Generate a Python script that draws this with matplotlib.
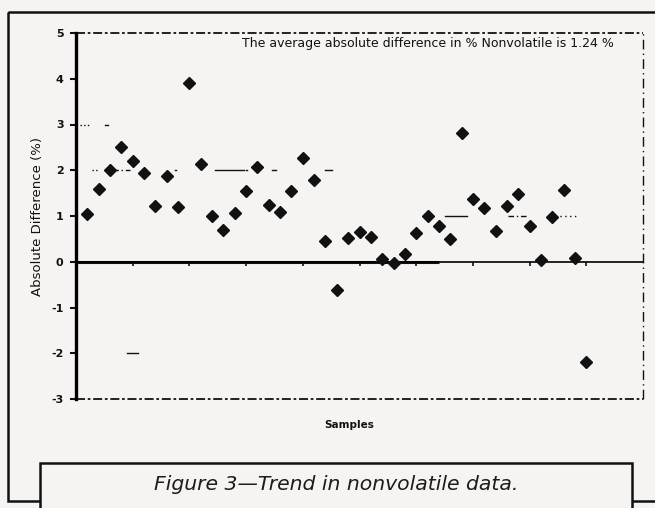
import matplotlib.pyplot as plt
from matplotlib.patches import Rectangle

# ---------- data ----------
sample_no = list(range(1, 46))
abs_diff = [1.05, 1.59, 2.00, 2.51, 2.21, 1.93, 1.21, 1.88, 1.20, 3.91,
            2.14, 0.99, 0.70, 1.06, 1.55, 2.08, 1.25, 1.08, 1.54, 2.27,
            1.79, 0.46, -0.61, 0.53, 0.64, 0.54, 0.06, -0.03, 0.17, 0.63,
            1.00, 0.79, 0.50, 2.81, 1.38, 1.17, 0.68, 1.22, 1.48, 0.79,
            0.03, 0.97, 1.56, 0.08, -2.19]
y_ticks = [-3, -2, -1, 0, 1, 2, 3, 4, 5]
x_ticks = [5, 10, 15, 20, 25, 30, 35, 40, 45]
avg_note = "The average absolute difference in % Nonvolatile is 1.24 %"
caption = "Figure 3\u2014Trend in nonvolatile data."

# broken dotted gridlines: (y, x_start, x_end, linestyle)
grid_bits = [
    (3, 0.35, 1.25, ":"), (3, 2.6, 2.8, "-"),
    (2, 1.4, 1.95, ":"), (2, 3.0, 4.8, (0, (6, 2, 1, 2))), (2, 8.7, 8.8, "-"),
    (2, 12.3, 14.8, "-"), (2, 15.0, 15.1, "-"), (2, 17.3, 17.6, "-"),
    (2, 22.0, 22.6, "-"),
    (1, 32.5, 34.5, "-"), (1, 38.1, 39.9, (0, (4, 2, 1, 2))),
    (1, 42.2, 44.3, (0, (1, 2.5))),
    (-2, 4.5, 5.45, "-"),
]

BG = "#f6f4f3"
INK = "#111111"
W, H = 655, 508

plt.rcParams["font.family"] = ["DejaVu Sans"]

fig = plt.figure(figsize=(W / 100, H / 100), dpi=100, facecolor=BG)

# outer frame and caption box (figure pixel coords)
frame = fig.add_axes([0, 0, 1, 1], facecolor="none", zorder=0)
frame.set_xlim(0, W)
frame.set_ylim(H, 0)
frame.axis("off")
frame.add_patch(Rectangle((8, 12), W + 20, 489, fill=False, lw=1.8, ec=INK))
frame.add_patch(Rectangle((40, 463), 592, 60, fc=BG, lw=1.8, ec=INK,
                          zorder=3))
frame.text(336, 485, caption, ha="center", va="center", fontsize=14.7,
           style="italic", color="#1c1c1c", zorder=4)

ax = fig.add_axes([76 / W, 1 - 399 / H, 567 / W, 366 / H], facecolor="none",
                  zorder=2)
ax.set_xlim(0, 50)
ax.set_ylim(-3, 5)

# left spine thick, bottom spine used as the zero line
for side in ("top", "right"):
    ax.spines[side].set_visible(False)
ax.spines["left"].set_linewidth(2.4)
ax.spines["bottom"].set_position(("data", 0))
ax.spines["bottom"].set_linewidth(1.2)

# dashed plot border
dash = (0, (5, 1.5, 1.5, 1.5))
ax.plot([0, 50], [5, 5], color=INK, lw=1.3, ls=dash, clip_on=False)
ax.plot([0, 50], [-3, -3], color=INK, lw=1.3, ls=dash, clip_on=False)
ax.plot([50, 50], [-3, 5], color=INK, lw=1.0, ls=(0, (7, 3, 1, 3)),
        clip_on=False)
ax.hlines(0, 0, 32, color=INK, lw=2.2)

for gy, gx0, gx1, gls in grid_bits:
    ax.plot([gx0, gx1], [gy, gy], color=INK, lw=1.0, ls=gls)

ax.plot(sample_no, abs_diff, ls="none", marker="D", ms=5.8, color=INK,
        zorder=5)

ax.set_yticks(y_ticks)
ax.set_yticklabels([str(v) for v in y_ticks], fontsize=8,
                   fontweight="bold")
ax.set_xticks(x_ticks)
ax.set_xticklabels([])
ax.tick_params(axis="y", direction="out", length=4, width=1.5, pad=5,
               colors=INK)
ax.tick_params(axis="x", direction="out", length=3, width=1.2, colors=INK)

ax.set_ylabel("Absolute Difference (%)", fontsize=9.5, labelpad=5,
              color=INK)
ax.text(0.482, -0.072, "Samples", transform=ax.transAxes, ha="center",
        va="center", fontsize=7.5, fontweight="bold", color=INK)
ax.text(0.948, 0.972, avg_note, transform=ax.transAxes, ha="right",
        va="center", fontsize=9, color=INK)

fig.savefig("out.png", dpi=100, facecolor=BG)
